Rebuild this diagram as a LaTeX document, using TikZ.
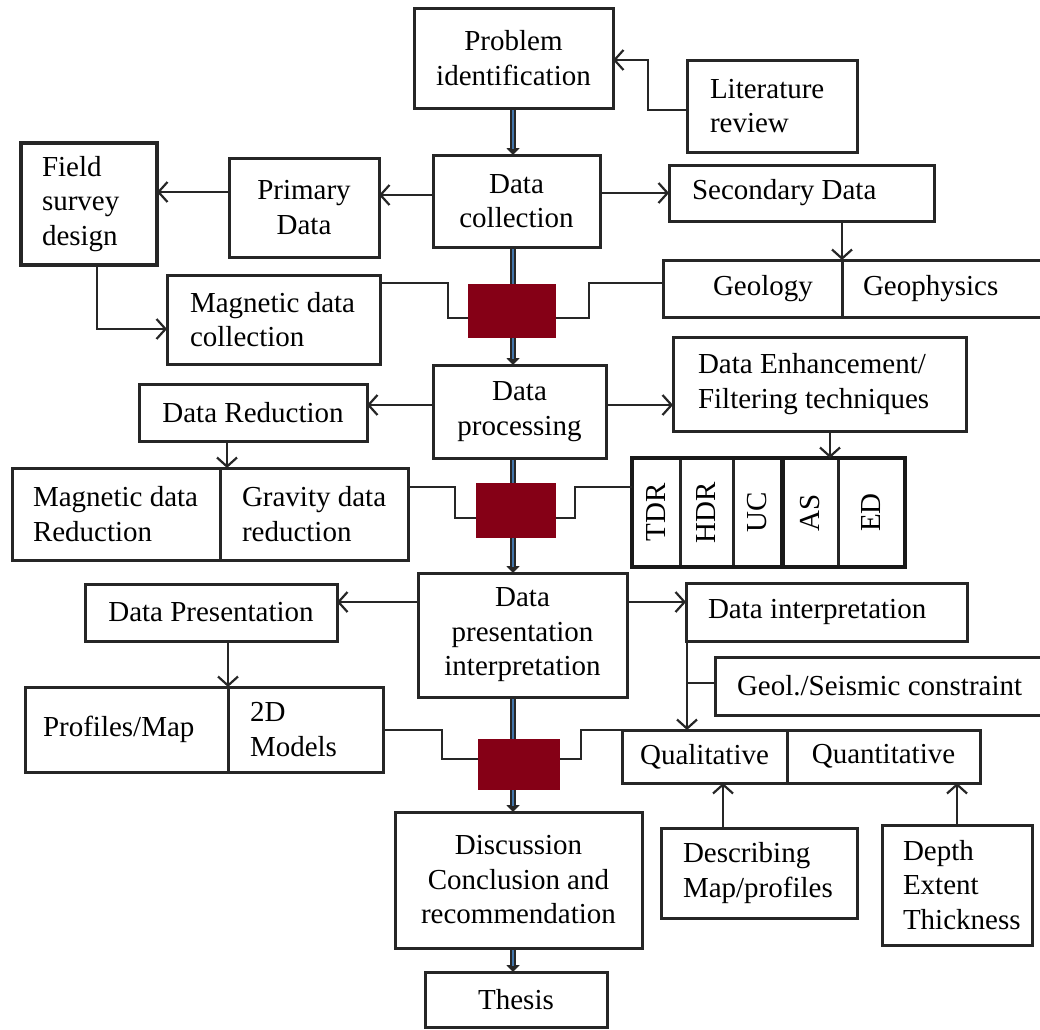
\documentclass[tikz,border=0pt]{standalone}
\usepackage{fontspec}
\usepackage{graphicx}
\setmainfont{Liberation Serif}
\usetikzlibrary{arrows.meta}
\definecolor{spblue}{RGB}{66,116,168}
\definecolor{dred}{RGB}{133,0,22}
\newcommand\myfs{\fontsize{29}{34.5}\selectfont}
\begin{document}
\begin{tikzpicture}[x=1pt,y=-1pt,
  box/.style={draw=black!85,line width=3pt,fill=white,inner sep=0pt,outer sep=0pt,align=center,font=\myfs},
  lbox/.style={box,align=flush left,text width=#1},
  redb/.style={fill=dred,draw=none,inner sep=0pt,outer sep=0pt},
  conn/.style={draw=black!85,line width=2.5pt},
  arr/.style={conn,-{Straight Barb[length=9pt,width=20pt,line width=2.2pt]}},
  spo/.style={line width=5.5pt,draw=black!85,-{Triangle[length=7pt,width=13pt]}},
  spi/.style={line width=2.5pt,draw=spblue,shorten >=6pt,shorten <=2pt}]
\useasboundingbox (0,0) rectangle (1040,1029);
\fill[white] (0,0) rectangle (1040,1029);
\coordinate (sx) at (513,0);

% main column
\node[box,minimum width=199pt,minimum height=100pt] (prob) at (513.5,58) {Problem\\identification};
\node[box,minimum width=167pt,minimum height=92pt] (coll) at (516.5,201) {Data\\collection};
\node[box,minimum width=173pt,minimum height=93pt] (proc) at (519.5,411.5) {Data\\processing};
\node[box,minimum width=209pt,minimum height=124pt] (dpi) at (522.5,635) {Data\\presentation\\interpretation};
\node[box,minimum width=247pt,minimum height=136pt] (disc) at (518.5,880) {Discussion\\Conclusion and\\recommendation};
\node[box,minimum width=182pt,minimum height=55pt] (thesis) at (516,999.5) {Thesis};

% top side boxes
\node[lbox=124pt,minimum width=170pt,minimum height=92pt] (lit) at (772,106) {Literature\\review};
\node[box,minimum width=150pt,minimum height=99pt] (prim) at (304,207.5) {Primary\\Data};
\node[lbox=94pt,minimum width=136pt,minimum height=122pt,line width=4pt] (field) at (89,204) {Field\\survey\\design};
\node[lbox=167pt,minimum width=213pt,minimum height=89pt] (magc) at (273.5,319.5) {\mbox{Magnetic data}\\collection};
\node[lbox=219pt,minimum width=265pt,minimum height=56pt] (sec) at (801.5,193) {\mbox{Secondary Data}};
\node[lbox=79pt,minimum width=179pt,minimum height=57pt] (geol) at (752.5,288.5) {Geology};
\node[lbox=161pt,minimum width=203pt,minimum height=57pt] (geop) at (943.5,288.5) {Geophysics};

% processing row
\node[lbox=243pt,minimum width=293pt,minimum height=94pt] (enh) at (819.5,384) {\mbox{Data Enhancement/}\\\mbox{Filtering techniques}};
\node[box,minimum width=228pt,minimum height=57pt] (red) at (253,412.5) {Data Reduction};
\node[lbox=166pt,minimum width=208pt,minimum height=92pt] (magr) at (116,514) {\mbox{Magnetic data}\\Reduction};
\node[lbox=144pt,minimum width=188pt,minimum height=92pt] (gravr) at (314,514) {\mbox{Gravity data}\\reduction};
\node[box,minimum width=48pt,minimum height=109pt] (tdr) at (656,512.5) {\rotatebox{90}{TDR}};
\node[box,minimum width=53pt,minimum height=109pt] (hdr) at (706.5,512.5) {\rotatebox{90}{HDR}};
\node[box,minimum width=49pt,minimum height=109pt] (uc) at (757.5,512.5) {\rotatebox{90}{UC}};
\node[box,minimum width=56pt,minimum height=109pt] (as) at (810,512.5) {\rotatebox{90}{AS}};
\node[box,minimum width=67pt,minimum height=109pt] (ed) at (871.5,512.5) {\rotatebox{90}{ED}};
\draw[line width=4.5pt,draw=black!90] (tdr.north west) rectangle (ed.south east);
\draw[line width=5pt,draw=black!90] (as.north west) -- (as.south west);

% presentation row
\node[box,minimum width=252pt,minimum height=57pt] (dpres) at (211,612.5) {Data Presentation};
\node[lbox=237pt,minimum width=281pt,minimum height=58pt] (dint) at (826.5,612) {\mbox{Data interpretation}};
\node[lbox=286pt,minimum width=330pt,minimum height=58pt] (geos) at (880,686) {\mbox{Geol./Seismic constraint}};
\node[box,minimum width=165pt,minimum height=53pt] (qual) at (704.5,756.5) {Qualitative};
\node[box,minimum width=193pt,minimum height=53pt] (quan) at (883.5,756.5) {Quantitative};
\node[lbox=167pt,minimum width=203pt,minimum height=85pt] (prof) at (126.5,729.5) {Profiles/Map};
\node[lbox=111pt,minimum width=155pt,minimum height=85pt] (twod) at (305.5,729.5) {2D\\Models};
\node[lbox=152pt,minimum width=196pt,minimum height=90pt] (desc) at (759,873) {Describing\\Map/profiles};
\node[lbox=108pt,minimum width=150pt,minimum height=120pt] (depth) at (957,885) {Depth\\Extent\\Thickness};

% spine
\foreach \a/\b in {prob/coll,coll/proc,proc/dpi,dpi/disc,disc/thesis}{
  \draw[spo] (\a.south -| sx) -- (\b.north -| sx);
  \draw[spi] (\a.south -| sx) -- (\b.north -| sx);
}

% red junction boxes
\node[redb,minimum width=88pt,minimum height=54pt] (r1) at (512,311) {};
\node[redb,minimum width=80pt,minimum height=55pt] (r2) at (516,510.5) {};
\node[redb,minimum width=82pt,minimum height=51pt] (r3) at (519,764.5) {};

% connectors
\draw[arr] (lit.west |- 0,110) -| (648,60) -- (prob.east |- 0,60);
\draw[arr] (coll.west |- 0,195) -- (prim.east |- 0,195);
\draw[arr] (prim.west |- 0,192) -- (field.east |- 0,192);
\draw[arr] (coll.east |- 0,193) -- (sec.west |- 0,193);
\draw[arr] (field.south -| 97,0) |- (magc.west |- 0,329);
\draw[arr] (sec.south -| geol.east) -- (geol.north east);
\draw[arr] (proc.west |- 0,405) -- (red.east |- 0,405);
\draw[arr] (proc.east |- 0,405) -- (enh.west |- 0,405);
\draw[arr] (red.south -| 227,0) -- (magr.north -| 227,0);
\draw[arr] (enh.south -| 830,0) -- (as.north -| 830,0);
\draw[arr] (dpi.west |- 0,602) -- (dpres.east |- 0,602);
\draw[arr] (dpi.east |- 0,602) -- (dint.west |- 0,602);
\draw[arr] (dpres.south -| twod.west) -- (twod.north west);
\draw[arr] (dint.south -| 687,0) -- (qual.north -| 687,0);
\coordinate (br) at (687,683);
\draw[conn] (br) -- (geos.west |- br);
\draw[arr] (desc.north -| 723,0) -- (qual.south -| 723,0);
\draw[arr] (depth.north -| 957,0) -- (quan.south -| 957,0);

\draw[conn] (r1.west |- 0,318) -| (448,283) -- (magc.east |- 0,283);
\draw[conn] (r1.east |- 0,318) -| (589,283) -- (geol.west |- 0,283);
\draw[conn] (gravr.east |- 0,487) -| (455,518) -- (r2.west |- 0,518);
\draw[conn] (r2.east |- 0,518) -| (575,487) -- (tdr.west |- 0,487);
\draw[conn] (twod.east |- 0,730) -| (442,759) -- (r3.west |- 0,759);
\draw[conn] (r3.east |- 0,759) -| (581,730) -- (qual.north west);
\end{tikzpicture}
\end{document}
